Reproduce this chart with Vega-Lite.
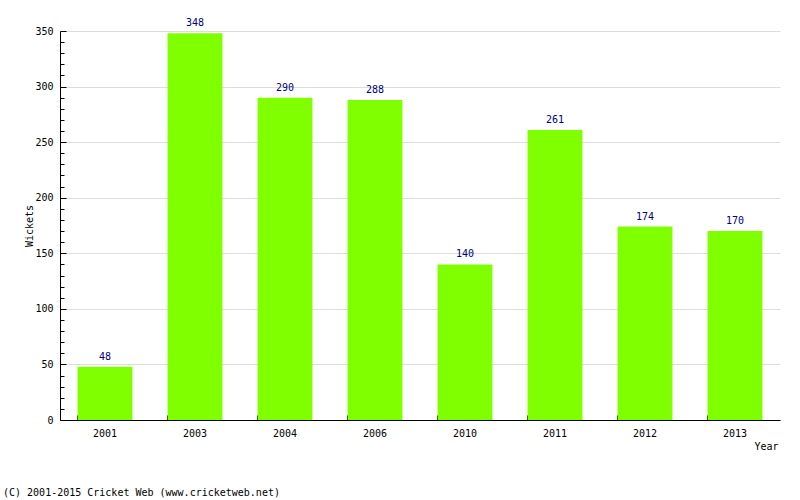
{
  "$schema": "https://vega.github.io/schema/vega-lite/v6.json",
  "width": 720,
  "height": 389,
  "autosize": {"type": "none"},
  "padding": {"left": 60, "top": 31, "right": 20, "bottom": 80},
  "background": "white",
  "title": {
    "text": "(C) 2001-2015 Cricket Web (www.cricketweb.net)",
    "orient": "bottom",
    "anchor": "start",
    "frame": "group",
    "dx": -57,
    "offset": 37,
    "font": "DejaVu Sans Mono",
    "fontSize": 10,
    "fontWeight": "normal",
    "color": "black"
  },
  "data": {
    "values": [
      {"Year": "2001", "Wickets": 48},
      {"Year": "2003", "Wickets": 348},
      {"Year": "2004", "Wickets": 290},
      {"Year": "2006", "Wickets": 288},
      {"Year": "2010", "Wickets": 140},
      {"Year": "2011", "Wickets": 261},
      {"Year": "2012", "Wickets": 174},
      {"Year": "2013", "Wickets": 170}
    ]
  },
  "encoding": {
    "x": {
      "field": "Year",
      "type": "nominal",
      "sort": null,
      "scale": {"paddingInner": 0.39, "paddingOuter": 0.195},
      "axis": {
        "labelAngle": 0,
        "bandPosition": 0,
        "tickSize": -5,
        "tickColor": "black",
        "domainColor": "black",
        "labelFont": "DejaVu Sans Mono",
        "labelFontSize": 10,
        "labelColor": "black",
        "labelPadding": 13,
        "title": "Year",
        "titleFont": "DejaVu Sans Mono",
        "titleFontSize": 10,
        "titleFontWeight": "normal",
        "titleColor": "black",
        "titleAnchor": "end",
        "titleAlign": "right",
        "titleX": 718,
        "titleY": 21,
        "grid": false
      }
    },
    "y": {
      "field": "Wickets",
      "type": "quantitative",
      "scale": {"domain": [0, 350], "nice": false},
      "axis": {
        "values": [0, 10, 20, 30, 40, 50, 60, 70, 80, 90, 100, 110, 120, 130, 140, 150, 160, 170, 180, 190, 200, 210, 220, 230, 240, 250, 260, 270, 280, 290, 300, 310, 320, 330, 340, 350],
        "labelExpr": "datum.value % 50 === 0 ? datum.label : ''",
        "gridOpacity": {"condition": {"test": "datum.value % 50 === 0", "value": 1}, "value": 0},
        "tickSize": {"condition": {"test": "datum.value % 50 === 0", "value": -6}, "value": -4},
        "tickColor": "black",
        "domainColor": "black",
        "gridColor": "#dddddd",
        "labelFont": "DejaVu Sans Mono",
        "labelFontSize": 10,
        "labelColor": "black",
        "labelPadding": 13,
        "labelOverlap": false,
        "title": "Wickets",
        "titleFont": "DejaVu Sans Mono",
        "titleFontSize": 10,
        "titleFontWeight": "normal",
        "titleColor": "black",
        "titleX": -26,
        "titleY": 194.5,
        "titleAlign": "center",
        "titleBaseline": "bottom"
      }
    }
  },
  "layer": [
    {
      "mark": {"type": "bar", "color": "#80ff00"}
    },
    {
      "mark": {"type": "text", "baseline": "bottom", "dy": -5, "font": "DejaVu Sans Mono", "fontSize": 10, "color": "#000080"},
      "encoding": {"text": {"field": "Wickets", "type": "quantitative"}}
    }
  ],
  "config": {"view": {"stroke": null}}
}
